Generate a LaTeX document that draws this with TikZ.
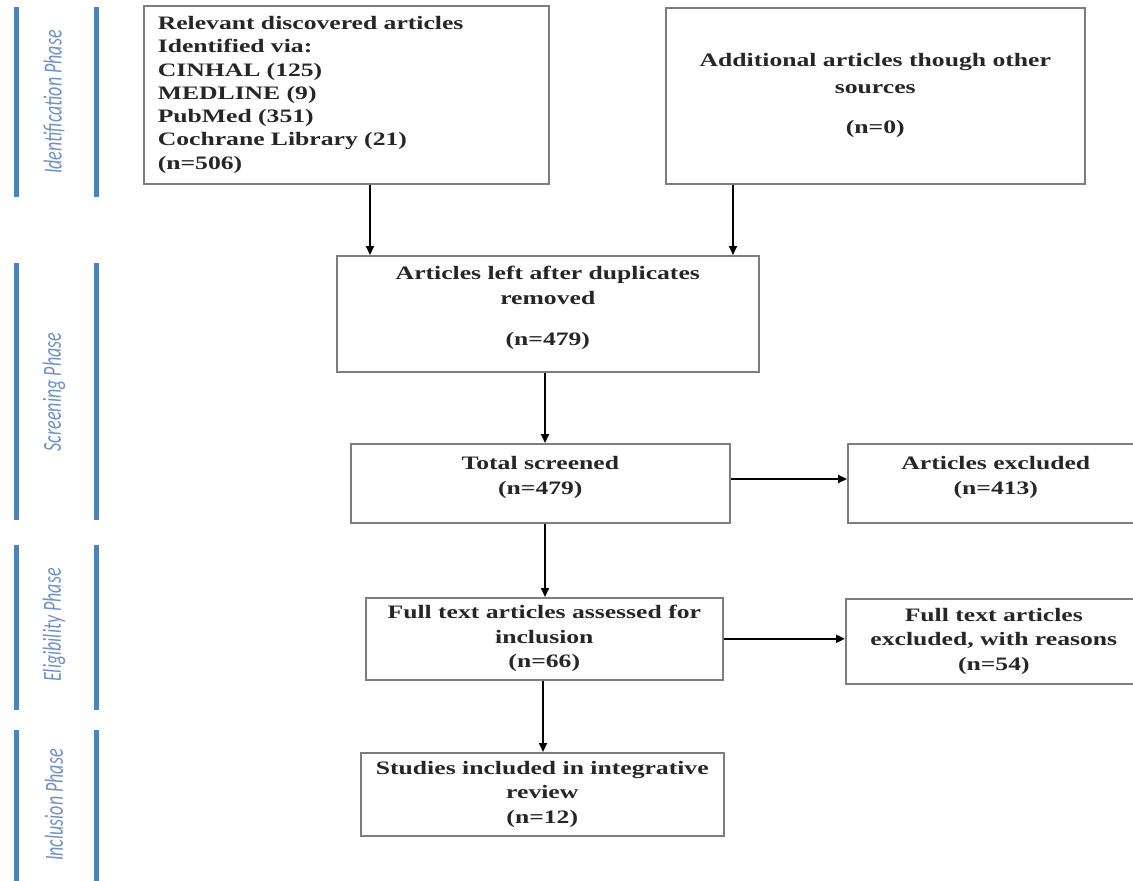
\documentclass[tikz,border=0pt]{standalone}
\usepackage{fontspec}
\setmainfont{Liberation Serif}
\newfontfamily\boxfont{Liberation Serif}[FakeStretch=1.35]
\newfontfamily\phasefont{Carlito}
\usetikzlibrary{arrows.meta}
\definecolor{barblue}{RGB}{79,129,189}
\definecolor{phasetxt}{RGB}{110,145,200}
\definecolor{boxgray}{RGB}{125,125,125}
\tikzset{
 box/.style={draw=boxgray, line width=1.6pt, inner sep=0pt, anchor=north west, text=black!85,
   font=\boxfont\bfseries\fontsize{19}{24.5}\selectfont, align=center},
 arr/.style={-{Triangle[length=9pt,width=8pt]}, line width=1.8pt, black},
 bar/.style={barblue, line width=5pt},
 phase/.style={rotate=90, text=phasetxt, inner sep=0pt, font=\phasefont\itshape\fontsize{18}{20}\selectfont},
}
\begin{document}
\begin{tikzpicture}[x=1pt,y=-1pt]
\useasboundingbox (0,0) rectangle (1133,881);
\clip (0,0) rectangle (1133,881);
% phase bars
\draw[bar] (16,7) -- (16,197);   \draw[bar] (96,7) -- (96,197);
\draw[bar] (16,263) -- (16,520); \draw[bar] (96,263) -- (96,520);
\draw[bar] (16,545) -- (16,710); \draw[bar] (96,545) -- (96,710);
\draw[bar] (16,730) -- (16,885); \draw[bar] (96,730) -- (96,885);
\node[phase] (pid) at (54,102) {\scalebox{1}[1.45]{Identification Phase}};
\node[phase] (psc) at (54,392) {\scalebox{1}[1.45]{Screening Phase}};
\node[phase] (pel) at (54,625) {\scalebox{1}[1.45]{Eligibility Phase}};
\node[phase] (pin) at (54,805) {\scalebox{1}[1.45]{Inclusion Phase}};
% boxes
\node[box, align=left, text width=377pt, inner xsep=14pt, minimum height=178pt,
  font=\boxfont\bfseries\fontsize{19}{23.3}\selectfont] (b1) at (143,5)
  {Relevant discovered articles\\Identified via:\\CINHAL (125)\\MEDLINE (9)\\PubMed (351)\\Cochrane Library (21)\\(n=506)};
\node[box, minimum width=419pt, minimum height=176pt] (b2) at (665,7)
  {Additional articles though other\\[2.5pt]sources\\[15.5pt](n=0)};
\node[box, minimum width=422pt, minimum height=116pt] (b3) at (336,255)
  {Articles left after duplicates\\removed\\[17pt](n=479)\\[-9pt]\mbox{}};
\node[box, minimum width=379pt, minimum height=79pt] (b4) at (350,443)
  {Total screened\\(n=479)\\[-9pt]\mbox{}};
\node[box, minimum width=296pt, minimum height=79pt] (b5) at (847,443)
  {Articles excluded\\(n=413)\\[-9pt]\mbox{}};
\node[box, minimum width=357pt, minimum height=82pt] (b6) at (365,597)
  {Full text articles assessed for\\inclusion\\(n=66)};
\node[box, minimum width=296pt, minimum height=85pt] (b7) at (845,598)
  {Full text articles\\excluded, with reasons\\(n=54)};
\node[box, minimum width=363pt, minimum height=83pt] (b8) at (360,752)
  {Studies included in integrative\\review\\(n=12)};
% connector guide coordinates
\coordinate (xa) at (370,0);
\coordinate (xb) at (733,0);
\coordinate (xc) at (545,0);
\coordinate (xd) at (543,0);
\coordinate (ya) at (0,479);
% connectors
\draw[arr] (b1.south -| xa) -- (b3.north -| xa);
\draw[arr] (b2.south -| xb) -- (b3.north -| xb);
\draw[arr] (b3.south -| xc) -- (b4.north -| xc);
\draw[arr] (b4.east |- ya) -- (b5.west |- ya);
\draw[arr] (b4.south -| xc) -- (b6.north -| xc);
\draw[arr] (b6.east) -- (b7.west |- b6.east);
\draw[arr] (b6.south -| xd) -- (b8.north -| xd);
\end{tikzpicture}
\end{document}
